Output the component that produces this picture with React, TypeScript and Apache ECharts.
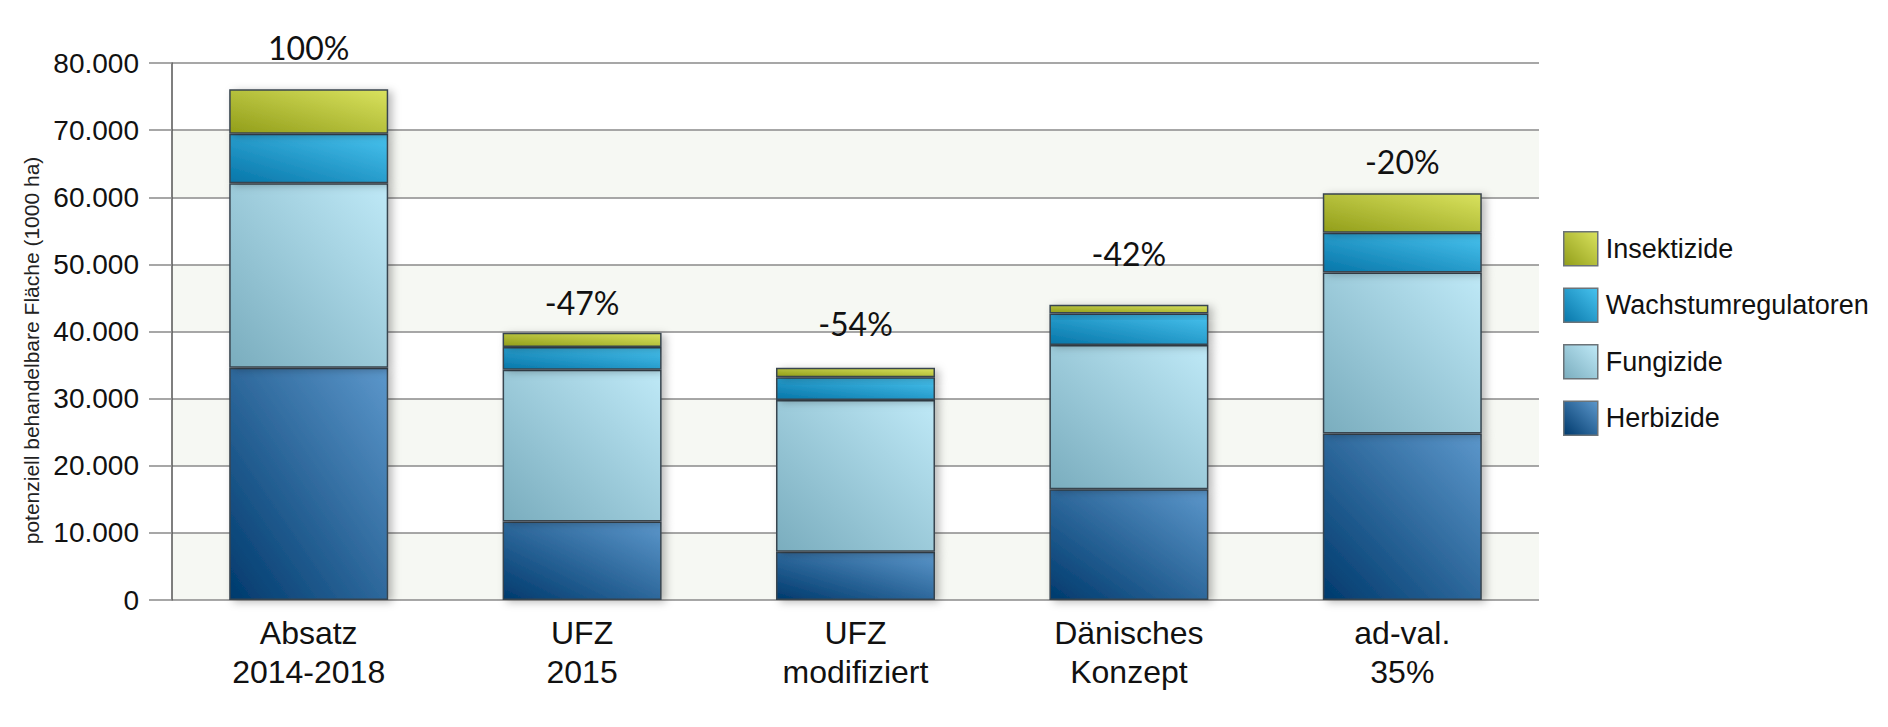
import { useEffect, useRef } from "react";
import * as echarts from "echarts";

const CATEGORIES = [
  "Absatz\n2014-2018",
  "UFZ\n2015",
  "UFZ\nmodifiziert",
  "Dänisches\nKonzept",
  "ad-val.\n35%",
];

const HERBIZIDE = [34600, 11700, 7200, 16500, 24800];
const FUNGIZIDE = [27500, 22600, 22600, 21500, 24000];
const WACHSTUM = [7350, 3400, 3400, 4700, 5900];
const INSEKTIZIDE = [6650, 2100, 1400, 1300, 5900];

const CHANGE_LABELS = ["100%", "-47%", "-54%", "-42%", "-20%"];

// gap between top of bar and its percentage label (px)
const LABEL_DIST = [26, 14, 28, 35, 16];

const FONT = '"Liberation Sans", Arial, sans-serif';

function grad(from: string, to: string) {
  return new echarts.graphic.LinearGradient(0, 1, 1, 0, [
    { offset: 0, color: from },
    { offset: 1, color: to },
  ]);
}

const SERIES_STYLE = {
  Herbizide: grad("#003a6d", "#5c97cb"),
  Fungizide: grad("#7aadbe", "#bfe9f7"),
  Wachstumregulatoren: grad("#0776a9", "#48c3ef"),
  Insektizide: grad("#929e1a", "#d9e25e"),
};

export default function App() {
  const ref = useRef<HTMLDivElement | null>(null);

  useEffect(() => {
    document.body.style.margin = "0";
    const el = ref.current;
    if (!el) return;
    const chart = echarts.init(el, null, { renderer: "svg" });

    const barStyle = (name: keyof typeof SERIES_STYLE) => ({
      color: SERIES_STYLE[name],
      borderColor: "#39454f",
      borderWidth: 1.5,
      shadowBlur: 8,
      shadowOffsetX: 4,
      shadowOffsetY: 2,
      shadowColor: "rgba(0,0,0,0.28)",
    });

    const mk = (name: keyof typeof SERIES_STYLE, data: unknown[]) => ({
      name,
      type: "bar",
      stack: "total",
      barWidth: 159,
      itemStyle: barStyle(name),
      data,
    });

    chart.setOption({
      animation: false,
      backgroundColor: "#ffffff",
      grid: { left: 172, right: 349, top: 63, bottom: 127, containLabel: false },
      legend: {
        orient: "vertical",
        left: 1558,
        top: 226,
        itemWidth: 34,
        itemHeight: 34,
        itemGap: 21,
        icon: "rect",
        data: ["Insektizide", "Wachstumregulatoren", "Fungizide", "Herbizide"],
        itemStyle: { shadowBlur: 0, shadowOffsetX: 0, shadowOffsetY: 0, borderColor: "#6b7378", borderWidth: 1.5 },
        textStyle: { fontFamily: FONT, fontSize: 27, color: "#111", padding: [0, 0, 0, 3] },
      },
      xAxis: {
        type: "category",
        data: CATEGORIES,
        axisLine: { show: false },
        axisTick: { show: false },
        axisLabel: {
          margin: 13,
          fontFamily: FONT,
          fontSize: 32,
          lineHeight: 39,
          color: "#111",
        },
      },
      yAxis: {
        type: "value",
        min: 0,
        max: 80000,
        interval: 10000,
        name: "potenziell behandelbare Fläche (1000 ha)",
        nameLocation: "middle",
        nameGap: 129,
        nameTextStyle: { fontFamily: FONT, fontSize: 21, color: "#222", padding: [0, 38, 0, 0] },
        axisLine: { show: true, lineStyle: { color: "#555", width: 1.5 } },
        axisTick: { show: true, length: 23, lineStyle: { color: "#8a8a8a", width: 1.5 } },
        axisLabel: {
          margin: 33,
          fontFamily: FONT,
          fontSize: 28,
          color: "#111",
          formatter: (v: number) => (v === 0 ? "0" : `${v / 1000}.000`),
        },
        splitLine: { show: true, lineStyle: { color: "#8a8a8a", width: 1.5 } },
        splitArea: { show: true, areaStyle: { color: ["#f6f8f3", "#ffffff"] } },
      },
      series: [
        mk("Herbizide", HERBIZIDE),
        mk("Fungizide", FUNGIZIDE),
        mk("Wachstumregulatoren", WACHSTUM),
        mk(
          "Insektizide",
          INSEKTIZIDE.map((v, i) => ({
            value: v,
            label: {
              show: true,
              position: "top",
              distance: LABEL_DIST[i],
              formatter: CHANGE_LABELS[i],
              fontFamily: "Lato, sans-serif",
              fontSize: 32,
              color: "#111",
            },
          })),
        ),
      ],
    });

    return () => chart.dispose();
  }, []);

  return <div ref={ref} style={{ width: 1888, height: 727 }} />;
}
